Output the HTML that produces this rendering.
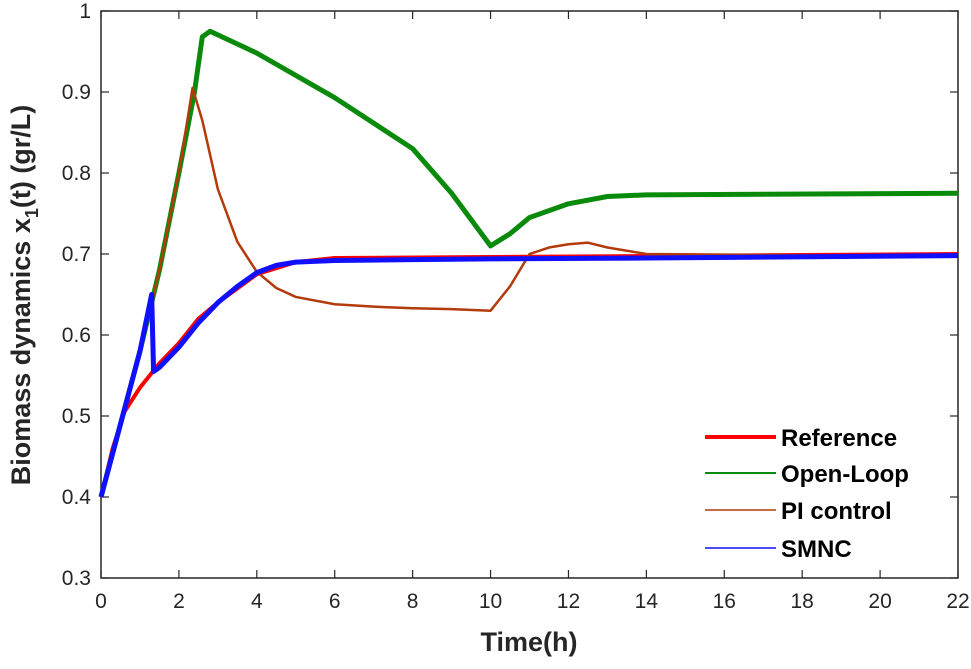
<!DOCTYPE html>
<html><head><meta charset="utf-8"><style>
body{margin:0;background:#fff}
svg{display:block;font-family:"Liberation Sans",Arial,sans-serif}
</style></head><body>
<svg id="chart" width="971" height="669">
<g id="axes"></g><g id="series"></g><g id="legend"></g>
<text x="529" y="651" text-anchor="middle" font-size="27" font-weight="bold" fill="#262626">Time(h)</text>
<text transform="translate(30,295) rotate(-90)" text-anchor="middle" font-size="27" font-weight="bold" fill="#262626">Biomass dynamics  x<tspan font-size="18" dy="8">1</tspan><tspan dy="-8">(t) (gr/L)</tspan></text>
</svg>
<script>
const xTicks=[0,2,4,6,8,10,12,14,16,18,20,22];
const yTicks=[0.3,0.4,0.5,0.6,0.7,0.8,0.9,1];
const seriesNames=["Reference","Open-Loop","PI control","SMNC"];
const refT=[0,0.3,0.6,1,1.5,2,2.5,3,4,5,6,22];
const refY=[0.40,0.46,0.505,0.535,0.565,0.59,0.62,0.64,0.675,0.69,0.695,0.70];
const olT=[0,0.5,1,1.5,2,2.4,2.6,2.8,4,6,8,9,10,10.5,11,12,13,14,22];
const olY=[0.40,0.49,0.58,0.68,0.80,0.90,0.968,0.975,0.948,0.893,0.83,0.775,0.71,0.725,0.745,0.762,0.771,0.773,0.775];
const piT=[0,0.5,1,1.5,2,2.35,2.6,3,3.5,4,4.5,5,6,7,8,9,10,10.5,11,11.5,12,12.5,13,14,22];
const piY=[0.40,0.49,0.58,0.68,0.80,0.905,0.865,0.78,0.715,0.678,0.658,0.647,0.638,0.635,0.633,0.632,0.63,0.66,0.70,0.708,0.712,0.714,0.708,0.70,0.697];
const smT=[0,0.5,1,1.3,1.35,1.5,2,2.5,3,3.5,4,4.5,5,6,8,10,14,22];
const smY=[0.40,0.49,0.58,0.65,0.555,0.56,0.585,0.615,0.64,0.66,0.677,0.686,0.69,0.692,0.693,0.694,0.695,0.698];
const X0=101,X1=958,Y0=578,Y1=11;
const sx=t=>X0+(t-0)/(22-0)*(X1-X0);
const sy=v=>Y0-(v-0.3)/(1-0.3)*(Y0-Y1);
const NS="http://www.w3.org/2000/svg";
function mk(tag,attrs,parent){const e=document.createElementNS(NS,tag);for(const k in attrs)e.setAttribute(k,attrs[k]);parent.appendChild(e);return e;}
const axes=document.getElementById('axes');
xTicks.forEach(t=>{
 const x=sx(t);
 const a=mk('line',{x1:x,x2:x,y1:Y0,y2:Y0-8,stroke:'#262626','stroke-width':1.2},axes);
 
 
 mk('line',{x1:x,x2:x,y1:Y1,y2:Y1+8,stroke:'#262626','stroke-width':1.2},axes);
 const l=mk('text',{x:x,y:Y0+30,'text-anchor':'middle','font-size':21,fill:'#262626'},axes);
 l.textContent=t;
 
 
});
yTicks.forEach(v=>{
 const y=sy(v);
 const a=mk('line',{x1:X0,x2:X0+8,y1:y,y2:y,stroke:'#262626','stroke-width':1.2},axes);
 
 
 mk('line',{x1:X1,x2:X1-8,y1:y,y2:y,stroke:'#262626','stroke-width':1.2},axes);
 const l=mk('text',{x:X0-10,y:y+7,'text-anchor':'end','font-size':21,fill:'#262626'},axes);
 l.textContent=String(v);
 
 
});
const box=mk('rect',{x:X0,y:Y1,width:X1-X0,height:Y0-Y1,fill:'none',stroke:'#262626','stroke-width':1.5},axes);


const ser=document.getElementById('series');
function line(T,V,color,w,name){
 const p=mk('polyline',{points:T.map((t,i)=>sx(t)+','+sy(V[i])).join(' '),fill:'none',stroke:color,'stroke-width':w,'stroke-linejoin':'round'},ser);
 
 
}
line(refT,refY,'#ff0000',4,'reference-line');
line(olT,olY,'#0a8a0a',5,'open-loop-line');
line(piT,piY,'#b33a0a',2.5,'pi-control-line');
line(smT,smY,'#1010ff',5,'smnc-line');
const leg=document.getElementById('legend');
const lc=['#ff0000','#0a8a0a','#b33a0a','#1010ff'],lw=[4,2,1.5,1.5],ly=[437,473,510,548];
seriesNames.forEach((n,i)=>{
 const g=mk('g',{},leg);
 
 
 mk('line',{x1:705,x2:776,y1:ly[i],y2:ly[i],stroke:lc[i],'stroke-width':lw[i]},g);
 const t=mk('text',{x:781,y:ly[i]+9,'font-size':24,'font-weight':'bold',fill:'#000'},g);
 t.textContent=n;
});
</script>
</body></html>
